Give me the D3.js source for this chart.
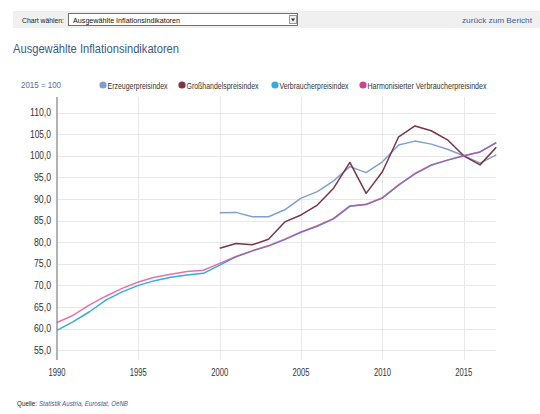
<!DOCTYPE html>
<html>
<head>
<meta charset="utf-8">
<script src="https://cdnjs.cloudflare.com/ajax/libs/d3/7.8.5/d3.min.js"></script>
<style>
  html, body { margin: 0; padding: 0; background: #fff; }
  svg { display: block; font-family: "Liberation Sans", Arial, sans-serif; }
</style>
</head>
<body>
<svg id="chart" width="540" height="414"></svg>
<script>
// Years on the x axis
const years = d3.range(1990, 2018);

// Index series, 2015 = 100 (null where no data)
const erzeugerpreisindex = [
  null, null, null, null, null, null, null, null, null, null,
  86.8, 86.9, 85.9, 85.9, 87.5, 90.2, 91.7, 94.2, 97.5, 96.1,
  98.6, 102.5, 103.4, 102.7, 101.5, 100.0, 98.3, 100.2
];
const grosshandelspreisindex = [
  null, null, null, null, null, null, null, null, null, null,
  78.6, 79.7, 79.4, 80.7, 84.7, 86.3, 88.6, 92.5, 98.5, 91.3,
  96.3, 104.4, 106.9, 105.8, 103.7, 100.0, 97.9, 102.0
];
const verbraucherpreisindex = [
  59.6, 61.6, 63.9, 66.6, 68.5, 70.0, 71.1, 71.9, 72.4, 72.8,
  74.7, 76.6, 78.0, 79.1, 80.6, 82.3, 83.7, 85.4, 88.3, 88.7,
  90.2, 93.2, 95.8, 97.8, 99.0, 100.0, 100.9, 103.0
];
const harmonisierterVPI = [
  61.4, 63.1, 65.5, 67.5, 69.3, 70.8, 71.9, 72.6, 73.2, 73.5,
  75.1, 76.7, 78.0, 79.2, 80.7, 82.4, 83.8, 85.5, 88.4, 88.8,
  90.3, 93.3, 95.9, 97.9, 99.0, 100.0, 100.9, 103.1
];

const yTicks = [55, 60, 65, 70, 75, 80, 85, 90, 95, 100, 105, 110];
const xTicks = [1990, 1995, 2000, 2005, 2010, 2015];

const seriesNames = [
  "Erzeugerpreisindex",
  "Großhandelspreisindex",
  "Verbraucherpreisindex",
  "Harmonisierter Verbraucherpreisindex"
];
const seriesColors = ["#829fcb", "#7a3546", "#35abe0", "#d53f8d"];
const seriesValues = [erzeugerpreisindex, grosshandelspreisindex, verbraucherpreisindex, harmonisierterVPI];

const svg = d3.select("#chart");

// condensed text helper: squeezes a label into a given width
function label(parent, x, y, str, size, fill, width, anchor) {
  const t = parent.append("text")
    .attr("x", x).attr("y", y)
    .attr("font-size", size).attr("fill", fill)
    .attr("text-anchor", anchor || "start")
    .text(str);
  if (width) t.attr("textLength", width).attr("lengthAdjust", "spacingAndGlyphs");
  return t;
}

// ---- page header: chart selector bar ----
svg.append("rect").attr("x", 13).attr("y", 11).attr("width", 527).attr("height", 17).attr("fill", "#f0f0f0");
label(svg, 22, 23, "Chart wählen:", 8, "#222", 42);
svg.append("rect").attr("x", 68.5).attr("y", 13.5).attr("width", 229).attr("height", 12)
  .attr("fill", "#fff").attr("stroke", "#707070");
label(svg, 73, 23, "Ausgewählte Inflationsindikatoren", 8, "#111", 107);
svg.append("rect").attr("x", 289.5).attr("y", 15.5).attr("width", 7).attr("height", 8).attr("fill", "#eee").attr("stroke", "#999");
svg.append("path").attr("d", "M291,18.5 L295,18.5 L293,21.5 Z").attr("fill", "#333");
label(svg, 462, 23, "zurück zum Bericht", 8, "#3a5c9a", 70);

// ---- title ----
label(svg, 13, 53, "Ausgewählte Inflationsindikatoren", 13, "#3d5a88", 166);

// ---- scales ----
const x = d3.scaleLinear().domain([1990, 2017]).range([57, 496.3]);
const y = d3.scaleLinear().domain([90, 110]).range([199, 112.6]);
const plotTop = 97, plotBottom = 360;

const fmt = v => d3.format(".1f")(v).replace(".", ",");

// horizontal grid + y labels
const gy = svg.append("g");
gy.selectAll("line").data(yTicks).join("line")
  .attr("x1", 57).attr("x2", 496.5)
  .attr("y1", d => Math.round(y(d)) + 0.5).attr("y2", d => Math.round(y(d)) + 0.5)
  .attr("stroke", "#e8e8e8");
yTicks.forEach(d => label(gy, 51, y(d) + 3.5, fmt(d), 10, "#333", fmt(d).length === 5 ? 21 : 17, "end"));

// vertical grid + x labels
const gx = svg.append("g");
gx.selectAll("line").data(xTicks.slice(1)).join("line")
  .attr("x1", d => Math.round(x(d)) + 0.5).attr("x2", d => Math.round(x(d)) + 0.5)
  .attr("y1", plotTop).attr("y2", plotBottom)
  .attr("stroke", "#e8e8e8");
xTicks.forEach(d => label(gx, x(d), 376, String(d), 10, "#333", 17, "middle"));

// y axis line
svg.append("line").attr("x1", 57).attr("x2", 57).attr("y1", plotTop).attr("y2", plotBottom)
  .attr("stroke", "#8a8a8a").attr("stroke-width", 1.3);

// ---- series lines ----
const line = d3.line()
  .defined(d => d.v !== null)
  .x(d => x(d.year))
  .y(d => y(d.v));

const seriesOpacity = [1, 1, 1, 0.72];
[0, 1, 2, 3].forEach(i => {
  const pts = years.map((yr, k) => ({ year: yr, v: seriesValues[i][k] }));
  svg.append("path").datum(pts)
    .attr("fill", "none")
    .attr("stroke", seriesColors[i])
    .attr("stroke-opacity", seriesOpacity[i])
    .attr("stroke-width", 1.5)
    .attr("stroke-linejoin", "round")
    .attr("d", line);
});

// ---- unit label and legend ----
label(svg, 21, 88, "2015 = 100", 9.5, "#5570a8", 40);
const legendX = [103, 182, 275, 363];
const legendW = [60, 72, 69, 119];
const lg = svg.append("g");
seriesNames.forEach((name, i) => {
  lg.append("circle").attr("cx", legendX[i]).attr("cy", 85).attr("r", 3.6).attr("fill", seriesColors[i]);
  label(lg, legendX[i] + 4.5, 88.5, name, 9, "#333", legendW[i]);
});

// ---- source note ----
label(svg, 17, 406, "Quelle:", 7.5, "#222", 20);
label(svg, 39, 406, "Statistik Austria, Eurostat, OeNB", 7.5, "#3a5c9a", 89).attr("font-style", "italic");
</script>
</body>
</html>
